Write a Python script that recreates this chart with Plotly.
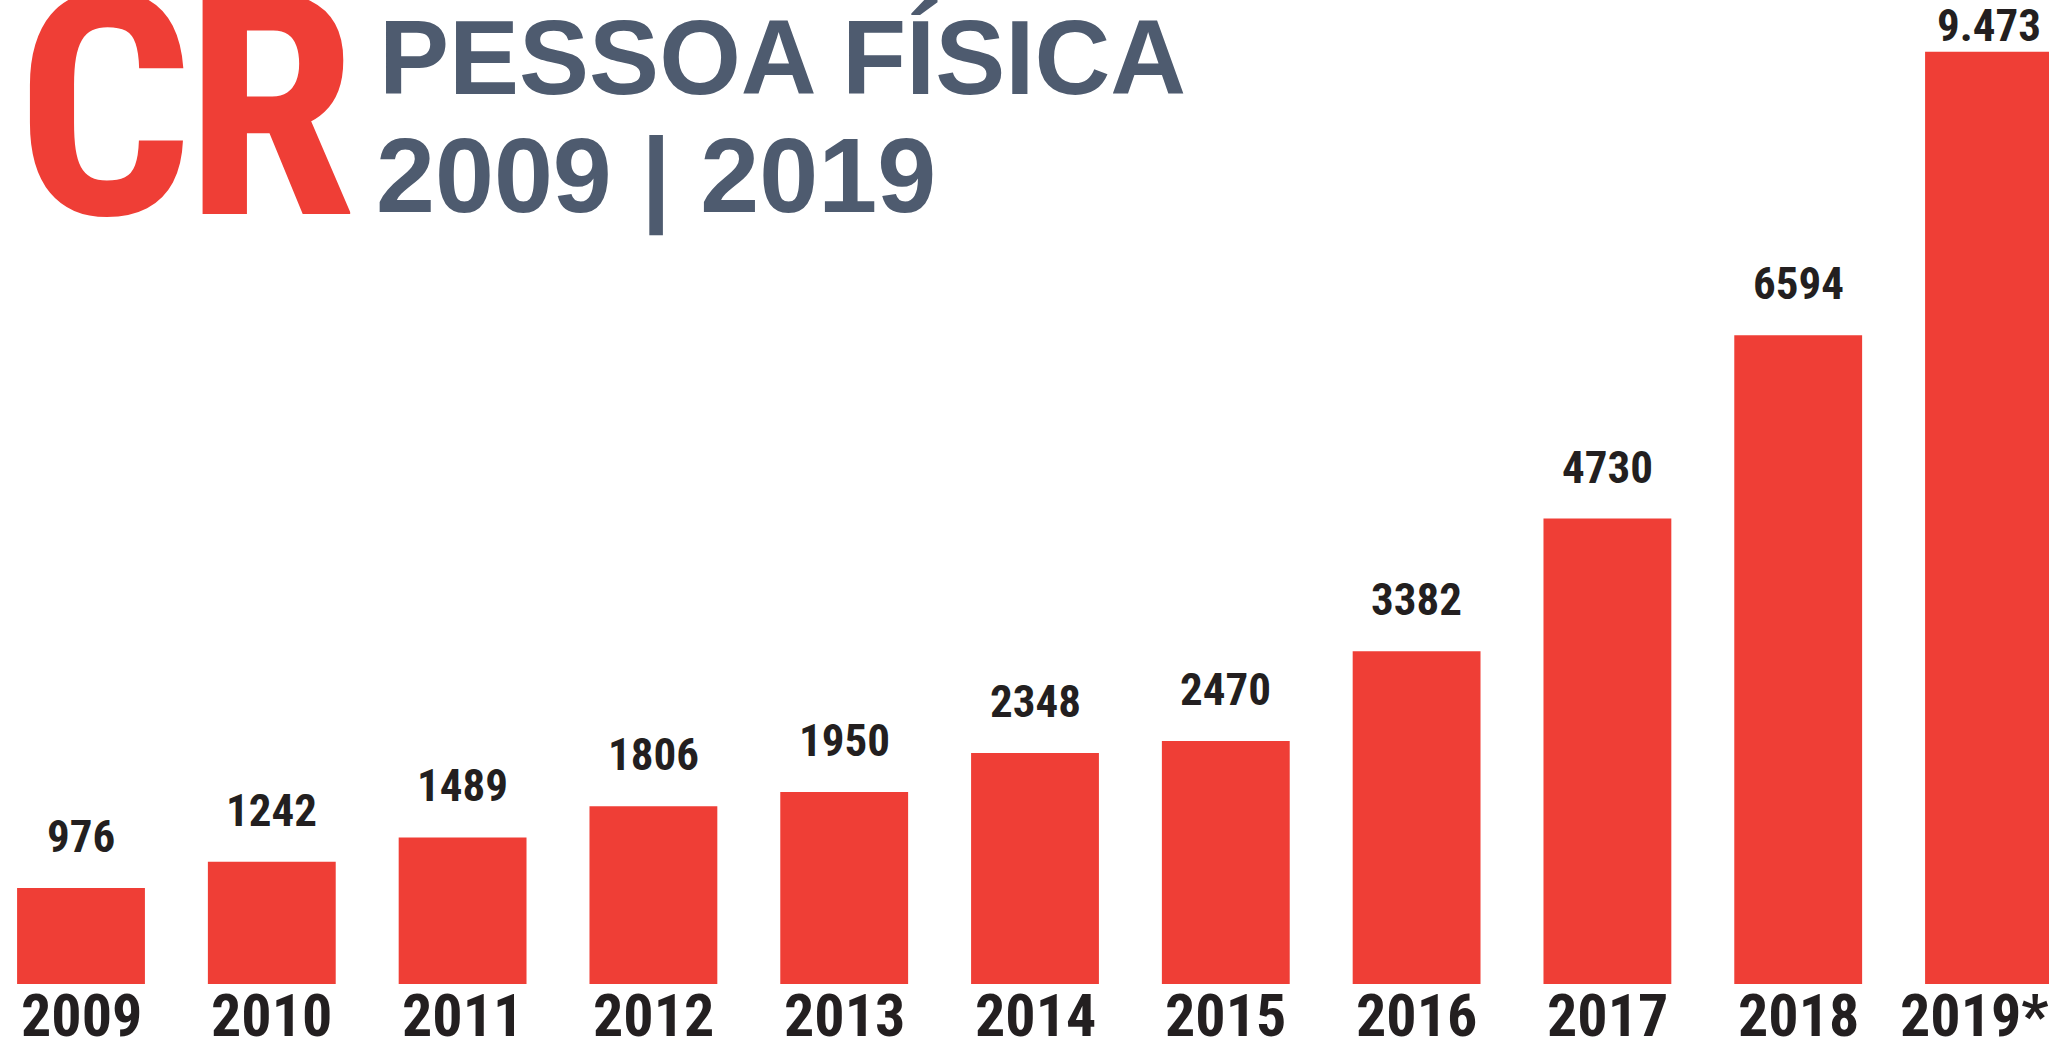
import plotly.graph_objects as go

years = ["2009", "2010", "2011", "2012", "2013", "2014", "2015", "2016", "2017", "2018", "2019*"]
values = [976, 1242, 1489, 1806, 1950, 2348, 2470, 3382, 4730, 6594, 9473]
value_labels = ["976", "1242", "1489", "1806", "1950", "2348", "2470", "3382", "4730", "6594", "9.473"]
title_logo = "CR"
title_line1 = "PESSOA FÍSICA"
title_line2 = "2009 | 2019"

W, H = 2049, 1054
MB = 70
PLOT_H = H - MB
Y_MAX = 10000
PPU = PLOT_H / Y_MAX
PITCH = 190.8
FIRST_CENTER = 81

BAR_RED = "#ef3e36"
DARK = "#231f20"
SLATE = "#4e5b6f"
COND = "Roboto Condensed, Liberation Sans, Arial, sans-serif"
ARIAL = "Liberation Sans, Arial, Helvetica, sans-serif"

idx = list(range(len(years)))
x0 = -FIRST_CENTER / PITCH
x1 = (W - FIRST_CENTER) / PITCH

fig = go.Figure()
fig.add_trace(go.Bar(
    x=idx, y=values, width=0.67,
    marker=dict(color=BAR_RED, line=dict(width=0)),
    hoverinfo="skip",
))


def py(px_from_top):
    return 1 - px_from_top / PLOT_H


annotations = []
# value labels above bars
VAL_SIZE = 45
for i, v, lbl in zip(idx, values, value_labels):
    top_px = v * PPU
    base_px = min(top_px + 34, PLOT_H - 43)
    annotations.append(dict(
        x=i, y=base_px / PPU, xref="x", yref="y",
        text=lbl, showarrow=False, xanchor="center", yanchor="bottom",
        yshift=-round(0.244 * VAL_SIZE),
        font=dict(family=COND, size=VAL_SIZE, color=DARK, weight="bold"),
    ))

# year labels under bars (kept inside the canvas at the right edge)
YEAR_SIZE = 60
YEAR_BASE = 1038
for i, yr in zip(idx, years):
    center_px = (i - x0) * PITCH
    est_w = sum(0.39 if ch == "*" else 0.5 for ch in yr) * YEAR_SIZE
    shift = min(0.0, W - 3 - (center_px + est_w / 2))
    annotations.append(dict(
        x=i, y=py(YEAR_BASE + 0.244 * YEAR_SIZE), xref="x", yref="paper",
        text=yr, showarrow=False, xanchor="center", yanchor="bottom",
        xshift=shift,
        font=dict(family=COND, size=YEAR_SIZE, color=DARK, weight="bold"),
    ))

LOGO_SIZE = 310
annotations.append(dict(
    x=14 / W, y=py(216 + 0.244 * LOGO_SIZE), xref="paper", yref="paper",
    text=f'<span style="letter-spacing:-8px">{title_logo}</span>',
    showarrow=False, xanchor="left", yanchor="bottom",
    font=dict(family=COND, size=LOGO_SIZE, color=BAR_RED, weight="bold"),
))
annotations.append(dict(
    x=377 / W, y=py(96 + 0.212 * 105), xref="paper", yref="paper",
    text=title_line1, showarrow=False, xanchor="left", yanchor="bottom",
    font=dict(family=ARIAL, size=105, color=SLATE, weight="bold"),
))
annotations.append(dict(
    x=374 / W, y=py(216 + 0.212 * 106), xref="paper", yref="paper",
    text=title_line2, showarrow=False, xanchor="left", yanchor="bottom",
    font=dict(family=ARIAL, size=106, color=SLATE, weight="bold"),
))

fig.update_layout(
    template="none",
    width=W, height=H,
    margin=dict(l=0, r=0, t=0, b=MB),
    paper_bgcolor="white", plot_bgcolor="white",
    showlegend=False,
    annotations=annotations,
    xaxis=dict(
        range=[x0, x1], showticklabels=False,
        showgrid=False, zeroline=False, showline=False, ticks="",
        automargin=False,
    ),
    yaxis=dict(
        range=[0, Y_MAX], visible=False, showgrid=False, zeroline=False,
        automargin=False,
    ),
)

fig.write_html("out.html")
